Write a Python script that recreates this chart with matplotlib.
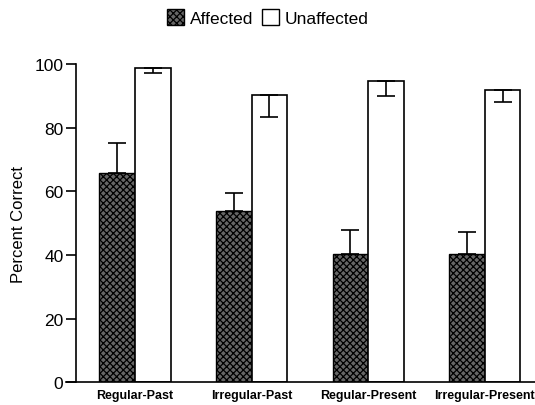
import numpy as np
import matplotlib
matplotlib.use('Agg')
import matplotlib.pyplot as plt
from matplotlib.patches import Patch

plt.rcParams['font.family'] = ['Liberation Sans', 'DejaVu Sans']
plt.rcParams['hatch.linewidth'] = 0.9

# data
conditions = ['Regular-Past', 'Irregular-Past', 'Regular-Present', 'Irregular-Present']
affected = [65.7, 53.8, 40.3, 40.3]
affected_err = [9.5, 5.6, 7.5, 6.9]
unaffected = [98.8, 90.3, 94.7, 91.8]
unaffected_err = [1.5, 6.9, 4.7, 3.7]

fig = plt.figure(figsize=(5.35, 4.06), dpi=100)
ax = fig.add_axes([0.142, 0.056, 0.858, 0.784])

x = np.arange(len(conditions))
w = 0.305

ax.bar(x - w / 2, affected, w, facecolor='#666666', edgecolor='black',
       hatch='xxxxx', linewidth=1.0, label='Affected', zorder=2)
ax.bar(x + w / 2, unaffected, w, facecolor='white', edgecolor='black',
       linewidth=1.2, label='Unaffected', zorder=2)

# error bars: up for affected, down for unaffected
ax.errorbar(x - w / 2, affected, yerr=[np.zeros(4), affected_err], fmt='none',
            ecolor='black', elinewidth=1.2, capsize=6.5, capthick=1.2, zorder=3)
ax.errorbar(x + w / 2, unaffected, yerr=[unaffected_err, np.zeros(4)], fmt='none',
            ecolor='black', elinewidth=1.2, capsize=6.5, capthick=1.2, zorder=3)

ax.set_xlim(-0.506, 3.43)
ax.set_ylim(0, 100)
ax.set_yticks([0, 20, 40, 60, 80, 100])
ax.set_xticks(x)
ax.set_xticklabels(conditions, fontsize=9, fontweight='bold')
ax.tick_params(axis='x', length=0, pad=5)
ax.tick_params(axis='y', labelsize=12.5, length=7, width=1.2, pad=2)
ax.set_ylabel('Percent Correct', fontsize=12, labelpad=6)

for s in ['top', 'right']:
    ax.spines[s].set_visible(False)
ax.spines['left'].set_linewidth(1.2)
ax.spines['bottom'].set_linewidth(1.2)
ax.spines['bottom'].set_bounds(-0.588, 3.43)

handles = [Patch(facecolor='#666666', edgecolor='black', hatch='xxxxx', label='Affected'),
           Patch(facecolor='white', edgecolor='black', label='Unaffected')]
fig.legend(handles=handles, loc='center', bbox_to_anchor=(0.5, 0.955), ncol=2,
           frameon=False, fontsize=12.5, handlelength=1.0, handleheight=1.1,
           handletextpad=0.3, columnspacing=0.5)

fig.savefig('out.png', dpi=100)
